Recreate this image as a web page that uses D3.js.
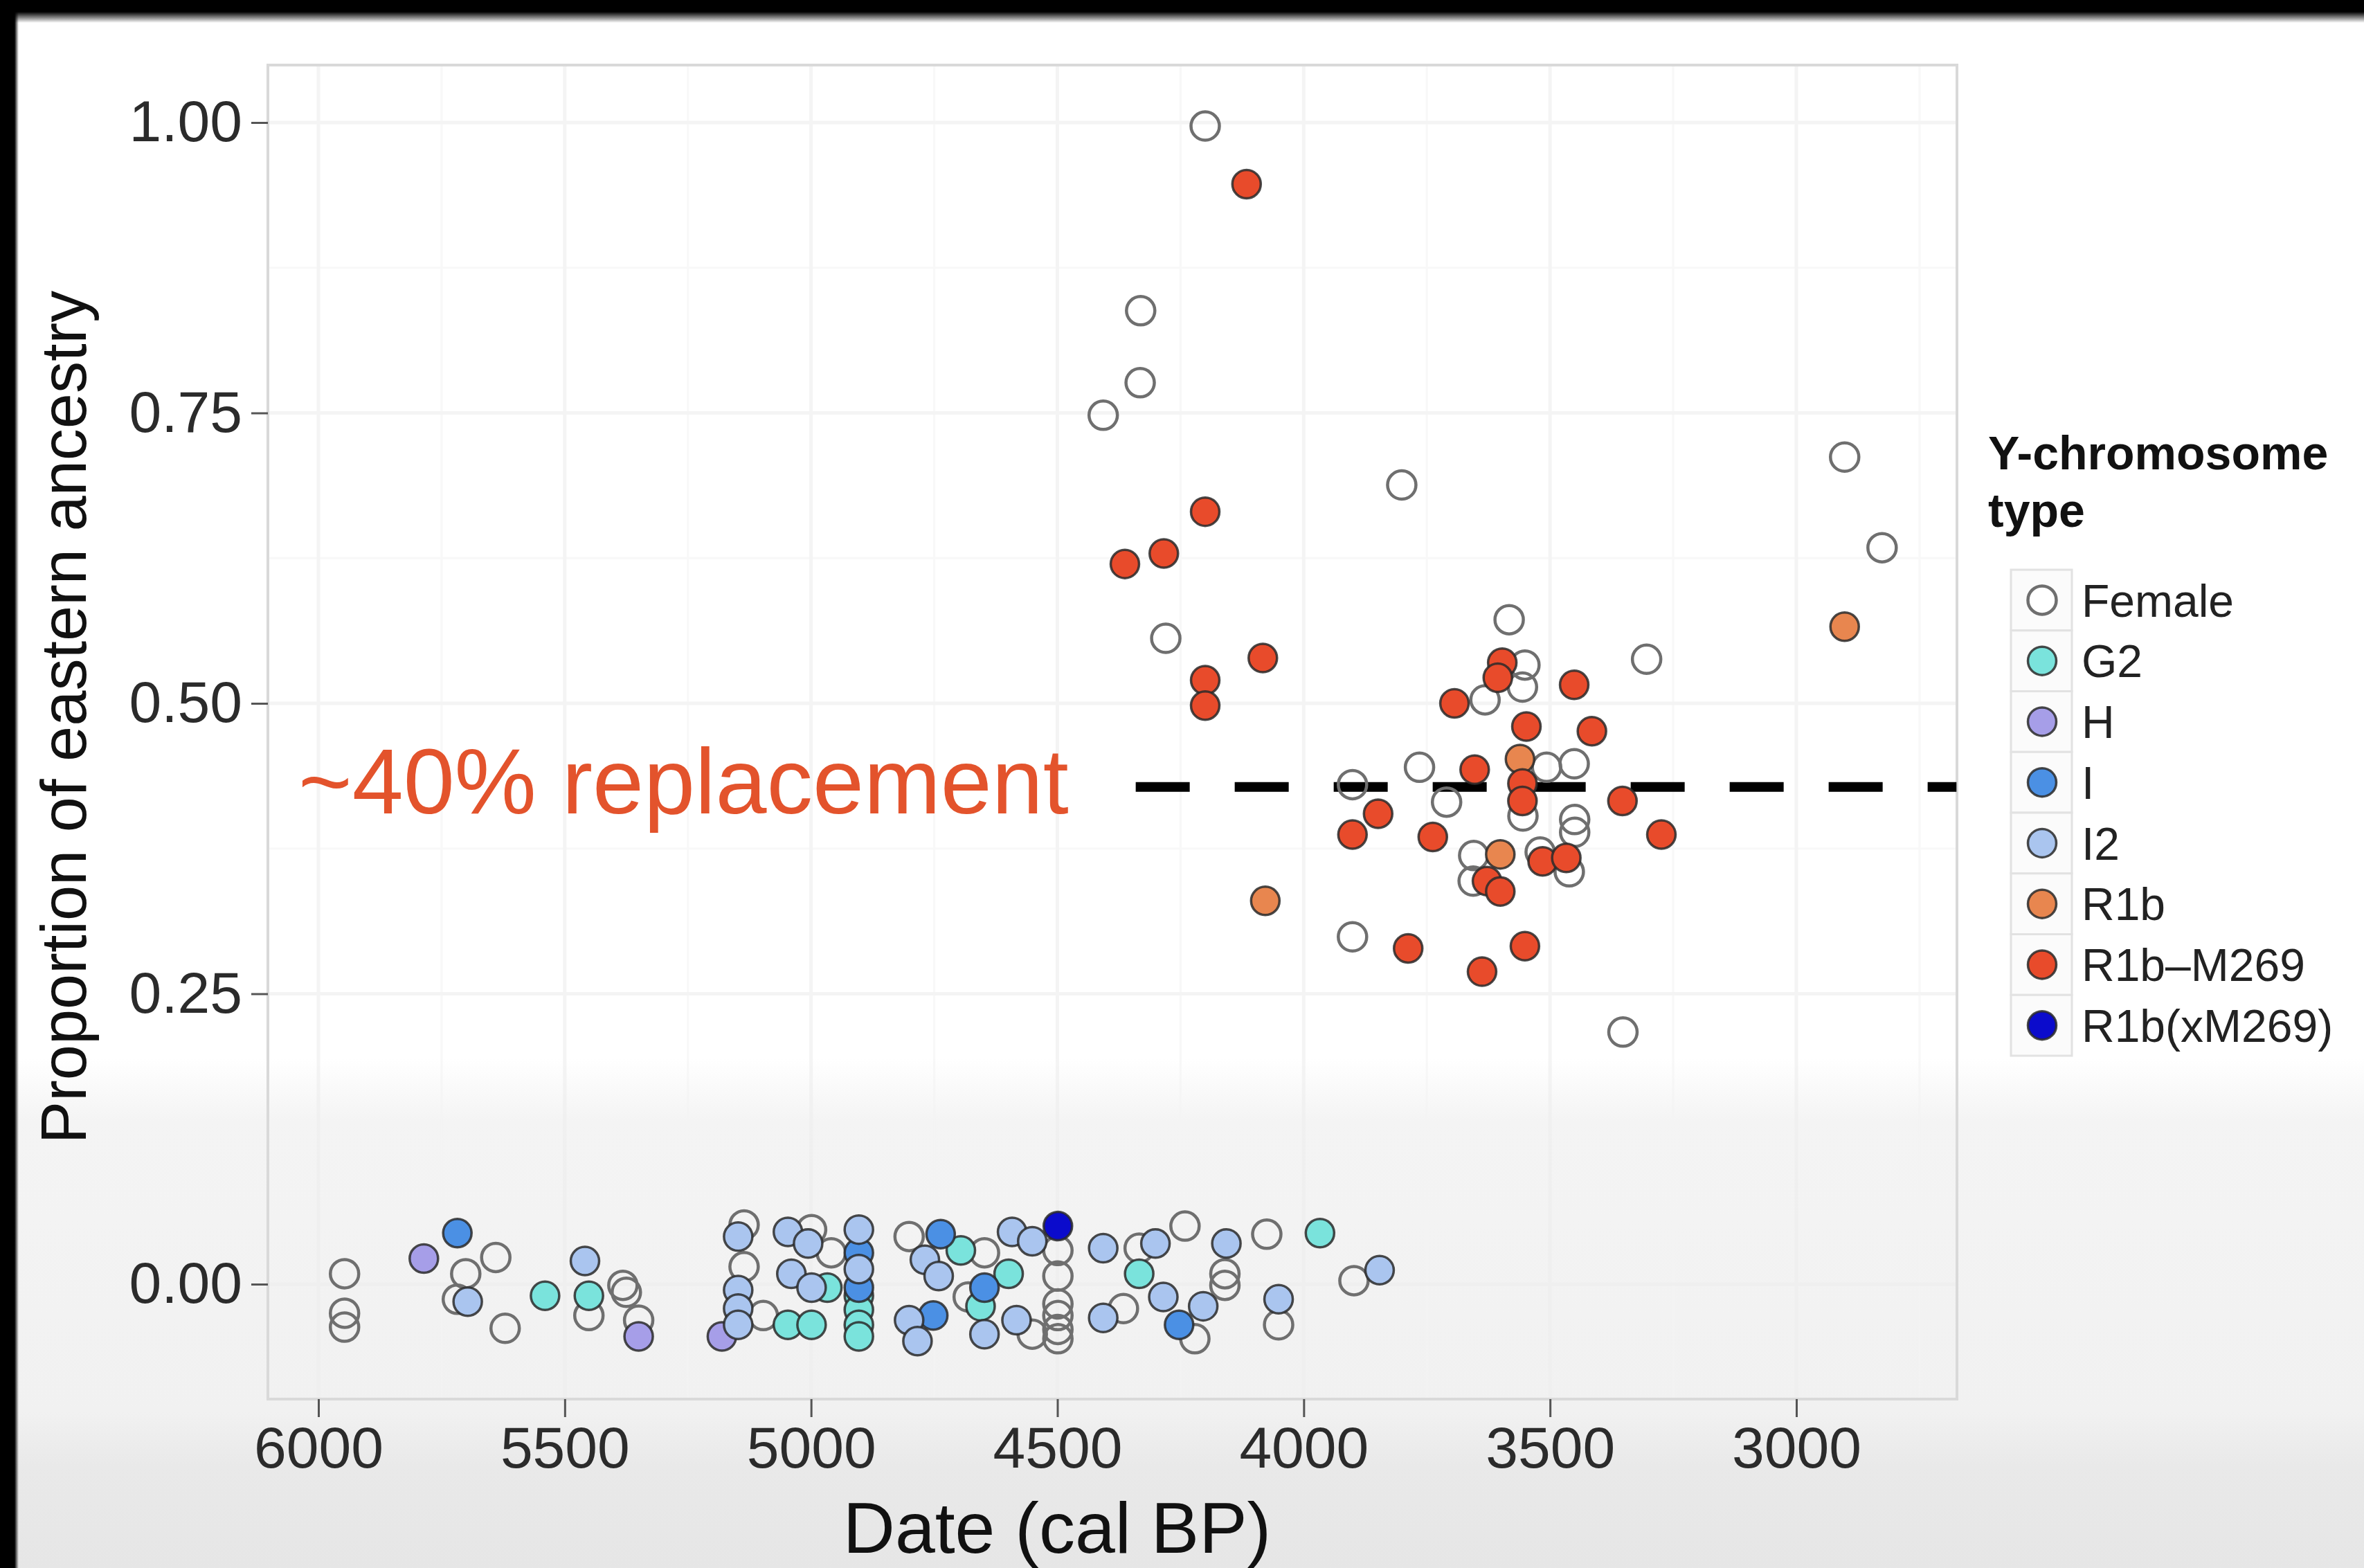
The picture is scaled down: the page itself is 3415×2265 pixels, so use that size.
<!DOCTYPE html>
<html>
<head>
<meta charset="utf-8">
<script src="https://cdn.jsdelivr.net/npm/d3@7"></script>
<style>
  html, body { margin: 0; padding: 0; background: #ffffff; }
  svg { display: block; }
  text { font-family: "Liberation Sans", Arial, Helvetica, sans-serif; }
</style>
</head>
<body>
<script>
// ---------------- DATA ----------------
const xTicks = [6000, 5500, 5000, 4500, 4000, 3500, 3000];
const xTickLabels = ["6000", "5500", "5000", "4500", "4000", "3500", "3000"];
const yTicks = [0, 0.25, 0.5, 0.75, 1.0];
const yTickLabels = ["0.00", "0.25", "0.50", "0.75", "1.00"];
const categories = ["Female", "G2", "H", "I", "I2", "R1b", "R1b\u2013M269", "R1b(xM269)"];
const categoryColors = ["none", "#7ae3dc", "#a69ee8", "#4b90e4", "#aac5ef", "#e8864f", "#e84b2b", "#0b0bcc"];

// [date cal BP, proportion of eastern ancestry]
const female = [
  [4200, 0.997], [4331, 0.838], [4332, 0.776], [4407, 0.748], [3801, 0.688],
  [2902, 0.712], [2826, 0.634], [4280, 0.556], [3583, 0.572], [3304, 0.538],
  [3551, 0.533], [3556, 0.514], [3632, 0.503], [3765, 0.445], [3507, 0.445],
  [3451, 0.448], [3901, 0.430], [3710, 0.415], [3555, 0.403], [3450, 0.400],
  [3450, 0.389], [3655, 0.369], [3656, 0.347], [3461, 0.355], [3520, 0.372],
  [3901, 0.299], [3352, 0.217],
  [5947, 0.009], [5947, -0.025], [5947, -0.037], [5640, 0.023], [5701, 0.009],
  [5718, -0.013], [5621, -0.038], [5451, -0.027], [5382, -0.001], [5375, -0.007],
  [5350, -0.031], [5136, 0.051], [5136, 0.015], [5097, -0.027], [4999, 0.047],
  [4959, 0.027], [4801, 0.041], [4648, 0.027], [4499, 0.029], [4499, 0.007],
  [4499, -0.017], [4499, -0.027], [4499, -0.039], [4499, -0.047], [4681, -0.011],
  [4551, -0.043], [4366, -0.021], [4334, 0.031], [4241, 0.050], [4221, -0.047],
  [4160, 0.009], [4160, -0.001], [4075, 0.043], [4051, -0.035], [3898, 0.003]
];
const g2 = [
  [5540, -0.010], [5451, -0.010], [5047, -0.035], [4999, -0.035], [4967, -0.003],
  [4903, -0.010], [4903, -0.022], [4903, -0.035], [4903, -0.045], [4696, 0.029],
  [4599, 0.009], [4656, -0.019], [4334, 0.009], [3967, 0.044]
];
const hGroup = [
  [5786, 0.022], [5350, -0.045], [5181, -0.045]
];
const iGroup = [
  [5718, 0.044], [4903, 0.027], [4903, -0.003], [4737, 0.043], [4648, -0.003],
  [4752, -0.027], [4253, -0.035]
];
const i2 = [
  [5697, -0.015], [5459, 0.020], [5148, 0.041], [5148, -0.005], [5148, -0.021],
  [5148, -0.035], [5047, 0.045], [5040, 0.009], [5006, 0.035], [4999, -0.003],
  [4903, 0.047], [4903, 0.013], [4769, 0.021], [4741, 0.007], [4592, 0.045],
  [4551, 0.037], [4583, -0.031], [4801, -0.031], [4784, -0.049], [4648, -0.043],
  [4407, 0.031], [4407, -0.029], [4301, 0.035], [4285, -0.011], [4204, -0.019],
  [4157, 0.035], [4051, -0.013], [3846, 0.012]
];
const r1b = [
  [2902, 0.566], [4078, 0.330], [3561, 0.452], [3601, 0.370]
];
const r1bM269 = [
  [4116, 0.947], [4200, 0.665], [4284, 0.629], [4363, 0.620], [4083, 0.539],
  [4200, 0.520], [4200, 0.498], [3597, 0.535], [3606, 0.522], [3694, 0.500],
  [3451, 0.516], [3548, 0.480], [3415, 0.476], [3653, 0.443], [3556, 0.431],
  [3556, 0.416], [3849, 0.405], [3901, 0.387], [3738, 0.385], [3353, 0.416],
  [3274, 0.387], [3628, 0.347], [3601, 0.338], [3515, 0.364], [3467, 0.367],
  [3788, 0.289], [3638, 0.269], [3551, 0.291]
];
const r1bX = [
  [4499, 0.050]
];
const seriesData = [female, g2, hGroup, iGroup, i2, r1b, r1bM269, r1bX];

const replacementLevel = 0.428;
const replacementFrom = 4341;
const replacementTo = 2675;
const annotation = "~40% replacement";

// ---------------- LAYOUT ----------------
const W = 3415, H = 2265;
const panel = { left: 387, right: 2827, top: 94, bottom: 2021 };

const svg = d3.select("body").append("svg")
  .attr("width", W).attr("height", H);

const defs = svg.append("defs");
const bgGrad = defs.append("linearGradient").attr("id", "bg")
  .attr("x1", 0).attr("y1", 0).attr("x2", 0).attr("y2", 1);
[[0, "#ffffff"], [0.675, "#ffffff"], [0.715, "#f4f4f4"], [0.90, "#f1f1f1"],
 [0.935, "#e9e9e9"], [1, "#e6e6e6"]].forEach(s =>
  bgGrad.append("stop").attr("offset", s[0]).attr("stop-color", s[1]));
const topFade = defs.append("linearGradient").attr("id", "topfade")
  .attr("x1", 0).attr("y1", 0).attr("x2", 0).attr("y2", 1);
topFade.append("stop").attr("offset", 0).attr("stop-color", "#000").attr("stop-opacity", 1);
topFade.append("stop").attr("offset", 1).attr("stop-color", "#000").attr("stop-opacity", 0);
const leftFade = defs.append("linearGradient").attr("id", "leftfade")
  .attr("x1", 0).attr("y1", 0).attr("x2", 1).attr("y2", 0);
leftFade.append("stop").attr("offset", 0).attr("stop-color", "#000").attr("stop-opacity", 1);
leftFade.append("stop").attr("offset", 1).attr("stop-color", "#000").attr("stop-opacity", 0);

svg.append("rect").attr("width", W).attr("height", H).attr("fill", "url(#bg)");

// scales
const x = d3.scaleLinear().domain([6000, 3000]).range([460, 2595]);
const y = d3.scaleLinear().domain([0, 1]).range([1855, 177]);

// grid (minor + major), very faint as in the photographed slide
const grid = svg.append("g").attr("opacity", 0.6);
const minorX = d3.range(5750, 2600, -500);
const minorY = [0.125, 0.375, 0.625, 0.875];
grid.selectAll("line.mx").data(minorX).join("line")
  .attr("x1", d => x(d)).attr("x2", d => x(d))
  .attr("y1", panel.top).attr("y2", panel.bottom)
  .attr("stroke", "#f4f4f4").attr("stroke-width", 3);
grid.selectAll("line.my").data(minorY).join("line")
  .attr("x1", panel.left).attr("x2", panel.right)
  .attr("y1", d => y(d)).attr("y2", d => y(d))
  .attr("stroke", "#f4f4f4").attr("stroke-width", 3);
grid.selectAll("line.Mx").data(xTicks).join("line")
  .attr("x1", d => x(d)).attr("x2", d => x(d))
  .attr("y1", panel.top).attr("y2", panel.bottom)
  .attr("stroke", "#eeeeee").attr("stroke-width", 5);
grid.selectAll("line.My").data(yTicks).join("line")
  .attr("x1", panel.left).attr("x2", panel.right)
  .attr("y1", d => y(d)).attr("y2", d => y(d))
  .attr("stroke", "#eeeeee").attr("stroke-width", 5);

// panel border
svg.append("rect")
  .attr("x", panel.left).attr("y", panel.top)
  .attr("width", panel.right - panel.left).attr("height", panel.bottom - panel.top)
  .attr("fill", "none").attr("stroke", "#d9d9d9").attr("stroke-width", 4);

// axes
const xAxis = svg.append("g").attr("transform", `translate(0,${panel.bottom})`)
  .call(d3.axisBottom(x).tickValues(xTicks).tickFormat((d, i) => xTickLabels[i])
    .tickSize(26).tickPadding(13));
const yAxis = svg.append("g").attr("transform", `translate(${panel.left},0)`)
  .call(d3.axisLeft(y).tickValues(yTicks).tickFormat((d, i) => yTickLabels[i])
    .tickSize(24).tickPadding(13));
[xAxis, yAxis].forEach(a => {
  a.select(".domain").remove();
  a.selectAll(".tick line").attr("stroke", "#555").attr("stroke-width", 3);
  a.selectAll(".tick text").attr("fill", "#2b2b2b")
    .style("font-family", "'Liberation Sans', Arial, sans-serif")
    .style("font-size", "84px");
});

// axis titles
svg.append("text").attr("x", 1527).attr("y", 2243)
  .attr("text-anchor", "middle").attr("fill", "#111")
  .style("font-size", "104px").text("Date (cal BP)");
svg.append("text")
  .attr("transform", "translate(124,1036) rotate(-90)")
  .attr("text-anchor", "middle").attr("fill", "#111")
  .style("font-size", "92px").text("Proportion of eastern ancestry");

// dashed replacement line
svg.append("line")
  .attr("x1", x(replacementFrom)).attr("x2", x(replacementTo))
  .attr("y1", y(replacementLevel)).attr("y2", y(replacementLevel))
  .attr("stroke", "#000").attr("stroke-width", 14)
  .attr("stroke-dasharray", "78 65");

// annotation text
svg.append("text").attr("x", 431).attr("y", 1175)
  .attr("fill", "#e3532c").style("font-size", "133px").text(annotation);

// points
const R = 20.5;
const pts = svg.append("g");
seriesData.forEach((data, k) => {
  const isFemale = k === 0;
  pts.append("g").selectAll("circle").data(data).join("circle")
    .attr("cx", d => x(d[0])).attr("cy", d => y(d[1])).attr("r", R)
    .attr("fill", isFemale ? "none" : categoryColors[k])
    .attr("stroke", isFemale ? "#6f6f6f" : "#2a2a2a")
    .attr("stroke-opacity", isFemale ? 1 : 0.85)
    .attr("stroke-width", isFemale ? 4.5 : 3.5);
});

// legend
const leg = svg.append("g");
leg.append("text").attr("x", 2872).attr("y", 678)
  .style("font-size", "68px").style("font-weight", "bold").attr("fill", "#111")
  .text("Y-chromosome");
leg.append("text").attr("x", 2872).attr("y", 761)
  .style("font-size", "68px").style("font-weight", "bold").attr("fill", "#111")
  .text("type");
const rowY = d3.scaleBand().domain(categories).range([823, 1525]);
const rows = leg.selectAll("g.row").data(categories).join("g")
  .attr("transform", d => `translate(0,${rowY(d)})`);
rows.append("rect").attr("x", 2905).attr("y", 0)
  .attr("width", 88).attr("height", rowY.bandwidth())
  .attr("fill", "#fbfbfb").attr("stroke", "#e2e2e2").attr("stroke-width", 3);
rows.append("circle").attr("cx", 2950).attr("cy", rowY.bandwidth() / 2).attr("r", R)
  .attr("fill", (d, i) => i === 0 ? "#ffffff" : categoryColors[i])
  .attr("stroke", (d, i) => i === 0 ? "#6f6f6f" : "#2a2a2a")
  .attr("stroke-opacity", (d, i) => i === 0 ? 1 : 0.85)
  .attr("stroke-width", (d, i) => i === 0 ? 4.5 : 3.5);
rows.append("text").attr("x", 3007).attr("y", rowY.bandwidth() / 2)
  .attr("dy", "0.36em").style("font-size", "66px").attr("fill", "#222")
  .text(d => d);

// photo frame edges
svg.append("rect").attr("x", 0).attr("y", 0).attr("width", W).attr("height", 17).attr("fill", "#000");
svg.append("rect").attr("x", 0).attr("y", 17).attr("width", W).attr("height", 16).attr("fill", "url(#topfade)");
svg.append("rect").attr("x", 0).attr("y", 0).attr("width", 21).attr("height", H).attr("fill", "#000");
svg.append("rect").attr("x", 21).attr("y", 0).attr("width", 6).attr("height", H).attr("fill", "url(#leftfade)");
</script>
</body>
</html>
